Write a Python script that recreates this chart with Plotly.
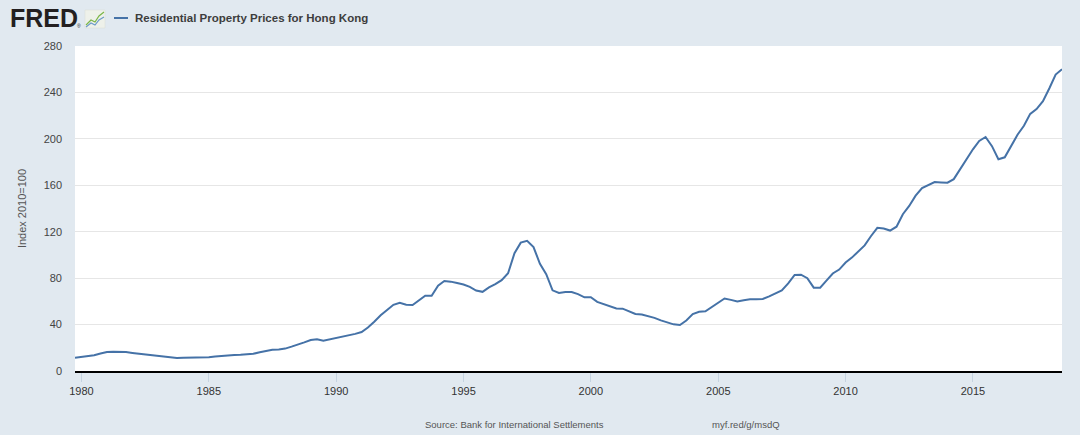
import pandas as pd
import plotly.graph_objects as go

# Quarterly data, 1979 Q4 .. 2018 Q3 (Index 2010=100)
start_date = "1979-10-01"
values = [
    11.5,
    12.0, 12.4, 13.5, 15.0,     # 1980
    16.3, 16.6, 16.6, 16.3,     # 1981
    15.6, 15.0, 14.3, 13.6,     # 1982
    12.8, 12.2, 11.8, 11.3,     # 1983
    11.5, 11.6, 11.1, 11.3,     # 1984
    11.8, 12.4, 13.0, 13.5,     # 1985
    13.7, 13.9, 14.2, 14.8,     # 1986
    16.2, 17.3, 18.3, 18.6,     # 1987
    19.3, 21.0, 22.6, 24.7,     # 1988
    26.7, 27.4, 26.0, 27.2,     # 1989
    28.5, 29.3, 30.2, 32.0,     # 1990
    33.6, 37.5, 42.5, 48.0,     # 1991
    52.5, 57.0, 58.8, 57.1,     # 1992
    56.9, 60.5, 64.9, 64.9,     # 1993
    73.5, 77.5, 77.0, 75.8,     # 1994
    74.5, 72.5, 69.3, 68.2,     # 1995
    72.0, 74.8, 78.3, 84.2,     # 1996
    101.5, 110.6, 112.2, 106.8, # 1997
    92.3, 83.4, 69.5, 67.2,     # 1998
    68.1, 68.1, 66.2, 63.5,     # 1999
    63.5, 59.6, 57.8, 55.9,     # 2000
    53.8, 53.7, 51.5, 49.1,     # 2001
    48.6, 47.5, 45.8, 43.6,     # 2002
    41.9, 40.2, 39.6, 43.5,     # 2003
    49.1, 51.1, 51.4, 55.2,     # 2004
    59.5, 62.5, 61.3, 59.8,     # 2005
    61.0, 61.8, 61.8, 62.0,     # 2006
    64.3, 66.5, 69.4, 75.5,     # 2007
    82.7, 83.0, 80.0, 71.8,     # 2008
    71.8, 77.8, 84.0, 87.4,     # 2009
    93.5, 97.7, 102.5, 108.2,   # 2010
    116.3, 123.4, 122.7, 121.0, # 2011
    124.3, 135.1, 142.2, 151.1, # 2012
    157.6, 160.3, 162.8, 162.5, # 2013
    162.2, 165.3, 173.8, 181.8, # 2014
    191.0, 198.2, 201.6, 193.7, # 2015
    182.4, 184.1, 193.3, 203.5, # 2016
    211.3, 221.5, 225.7, 232.4, # 2017
    243.6, 255.4, 260.0,        # 2018
]
dates = pd.date_range(start_date, periods=len(values), freq="QS")

y_ticks = [0, 40, 80, 120, 160, 200, 240, 280]
series_name = "Residential Property Prices for Hong Kong"
y_title = "Index 2010=100"
source_text = "Source: Bank for International Settlements"
link_text = "myf.red/g/msdQ"

W, H = 1080, 435
ML, MR, MT, MB = 75, 18, 46, 64
PW, PH = W - ML - MR, H - MT - MB


def px(x):
    return (x - ML) / PW


def py(y):
    return (H - MB - y) / PH


BG = "#e1e9f0"
LINE = "#4572a7"
FONT = "Liberation Sans, Arial, sans-serif"

fig = go.Figure()
fig.add_trace(go.Scatter(
    x=dates, y=values, mode="lines", name=series_name,
    line=dict(color=LINE, width=2), showlegend=False,
))

fig.update_layout(
    width=W, height=H,
    margin=dict(l=ML, r=MR, t=MT, b=MB),
    paper_bgcolor=BG, plot_bgcolor="#ffffff",
    font=dict(family=FONT, size=11, color="#333333"),
    xaxis=dict(
        range=[dates[0], dates[-1]],
        tick0="1980-01-01", dtick="M60", tickformat="%Y",
        showgrid=False, showline=True, linecolor="#000000", linewidth=2,
        ticks="outside", ticklen=9, tickcolor="#c5d3e0", tickwidth=1,
        tickfont=dict(size=11, color="#333333"),
        zeroline=False, fixedrange=True,
    ),
    yaxis=dict(
        range=[0, 280], tickvals=y_ticks,
        showgrid=True, gridcolor="#e6e6e6", gridwidth=1,
        zeroline=False, showline=False,
        ticklabelstandoff=12,
        tickfont=dict(size=11, color="#444444"),
        title=dict(text=y_title, font=dict(size=11, color="#555555"), standoff=14),
        fixedrange=True,
    ),
)

# FRED logo text
fig.add_annotation(
    x=px(8), y=py(18), xref="paper", yref="paper", xanchor="left", yanchor="middle",
    text="<b>FRED</b>", showarrow=False,
    font=dict(family="Liberation Sans, Arial", size=25, color="#231f20"),
)
fig.add_annotation(
    x=px(75), y=py(26), xref="paper", yref="paper", xanchor="left", yanchor="middle",
    text="®", showarrow=False, font=dict(size=5, color="#231f20"),
)
# small logo icon
fig.add_shape(type="rect", xref="paper", yref="paper",
              x0=px(85), x1=px(105), y0=py(28), y1=py(10),
              fillcolor="#eef1ea", line=dict(color="#d8ddd4", width=0.5))
fig.add_shape(type="path", xref="paper", yref="paper",
              path=f"M {px(86)},{py(25)} L {px(91)},{py(20)} L {px(95)},{py(22)} L {px(99)},{py(16)} L {px(104)},{py(12)}",
              line=dict(color="#7ab648", width=1.2))
fig.add_shape(type="path", xref="paper", yref="paper",
              path=f"M {px(86)},{py(27)} L {px(91)},{py(23)} L {px(95)},{py(25)} L {px(99)},{py(20)} L {px(104)},{py(17)}",
              line=dict(color="#6d9bc8", width=1.2))

# legend line + text
fig.add_shape(type="line", xref="paper", yref="paper",
              x0=px(114), x1=px(128), y0=py(18), y1=py(18),
              line=dict(color=LINE, width=2))
fig.add_annotation(
    x=px(133), y=py(18), xref="paper", yref="paper", xanchor="left", yanchor="middle",
    text=f"<b>{series_name}</b>", showarrow=False,
    font=dict(size=11.5, color="#3d3d3d"),
)

# source / link
fig.add_annotation(
    x=px(514), y=py(424), xref="paper", yref="paper", xanchor="center", yanchor="middle",
    text=source_text, showarrow=False, font=dict(size=9.5, color="#555555"),
)
fig.add_annotation(
    x=px(746), y=py(424), xref="paper", yref="paper", xanchor="center", yanchor="middle",
    text=link_text, showarrow=False, font=dict(size=9.5, color="#555555"),
)

fig.write_html(
    "out.html",
    config={"displayModeBar": False},
    post_script=(
        "document.documentElement.style.margin='0';"
        "document.body.style.margin='0';"
        "document.body.style.overflow='hidden';"
        "document.body.style.background='" + BG + "';"
    ),
)
